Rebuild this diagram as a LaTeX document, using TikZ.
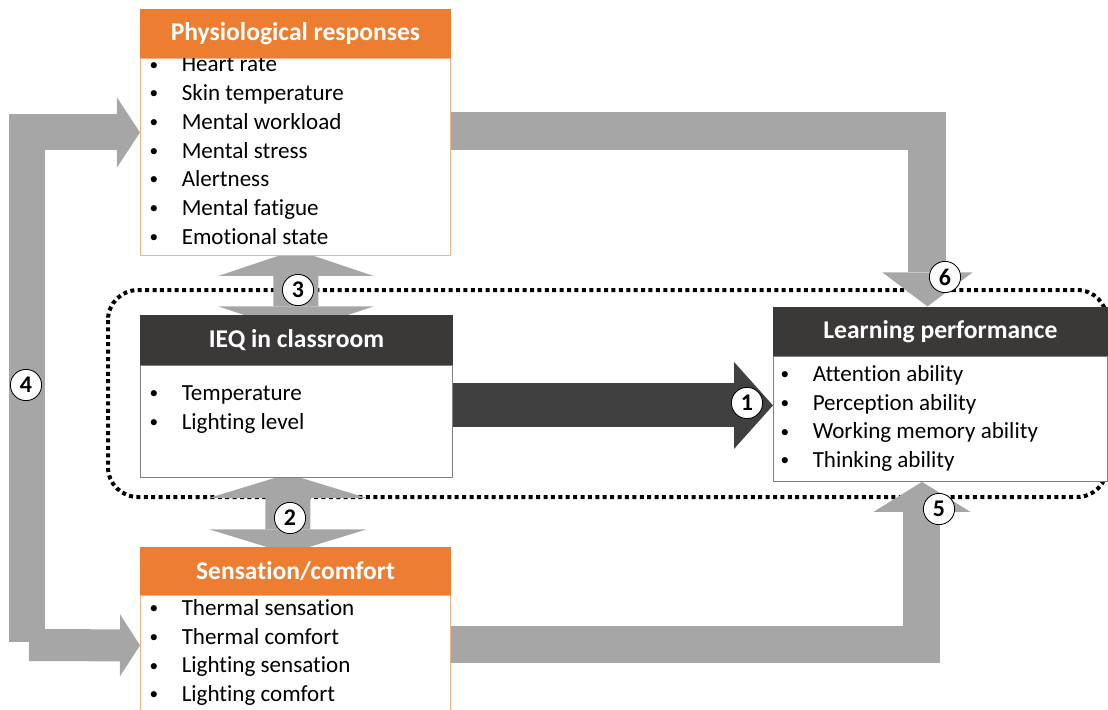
\documentclass[tikz,border=0pt]{standalone}
\usepackage{fontspec}
\setmainfont[Ligatures=NoCommon]{Carlito}
\usetikzlibrary{arrows.meta,positioning,backgrounds}

\definecolor{orangefill}{HTML}{ED7D31}
\definecolor{orangeline}{HTML}{F4B183}
\definecolor{darkfill}{HTML}{3B3838}
\definecolor{arrowgray}{HTML}{A6A6A6}
\definecolor{arrowdark}{HTML}{404040}

\tikzset{
    orange-box/.style = {draw=orangeline, fill=white, line width=0.6pt, rectangle, anchor=north west, inner sep=0pt},
    gray-box/.style = {draw=gray, fill=white, line width=0.6pt, rectangle, anchor=north west, inner sep=0pt},
    orange-title/.style = {fill=orangefill, text=white, inner sep=0pt, font=\bfseries\fontsize{18.2}{22}\selectfont},
    dark-title/.style = {fill=darkfill, text=white, inner sep=0pt, font=\bfseries\fontsize{18.2}{22}\selectfont},
    list-text/.style = {inner sep=0pt, anchor=base west, font=\fontsize{16.4}{20.4}\selectfont},
    gray-arrow/.style = {draw=arrowgray},
    num-badge/.style = {circle, draw=black, fill=white, line width=0.6pt, minimum size=0.78cm, inner sep=0pt, font=\bfseries\fontsize{17}{20}\selectfont},
    dotted-frame/.style = {draw=black, line width=0.1cm, dash pattern=on 0.1cm off 0.085cm, rounded corners=0.75cm},
}

\newcommand{\tip}[2]{Triangle[length=#1, width=#2, line width=0pt]}
\newcommand{\smallbullet}{\hspace{1pt}\raisebox{0.08em}{\scalebox{0.75}{\textbullet}}}

\begin{document}
\begin{tikzpicture}[x=0.025cm, y=-0.025cm]
\useasboundingbox (0,0) rectangle (1108,709);

% boxes
\node[orange-box, minimum width=7.75cm, minimum height=4.925cm] (physbody) at (140,58) {};
\node[gray-box, minimum width=7.8cm, minimum height=2.8cm] (ieqbody) at (140,365) {};
\node[orange-box, minimum width=7.75cm, minimum height=3.25cm] (sensbody) at (140,595) {};
\node[gray-box, minimum width=8.35cm, minimum height=3.125cm] (learnbody) at (773,356) {};

% bullet lists
\node[list-text] (physlist) at ([shift={(8,14)}]physbody.north west) {\begin{tabular}[t]{@{}p{23.8pt}@{}l@{}}
    \smallbullet & Heart rate\\
    \smallbullet & Skin temperature\\
    \smallbullet & Mental workload\\
    \smallbullet & Mental stress\\
    \smallbullet & Alertness\\
    \smallbullet & Mental fatigue\\
    \smallbullet & Emotional state
\end{tabular}};
\node[list-text] (ieqlist) at ([shift={(8,35.5)}]ieqbody.north west) {\begin{tabular}[t]{@{}p{23.8pt}@{}l@{}}
    \smallbullet & Temperature\\
    \smallbullet & Lighting level
\end{tabular}};
\node[list-text] (senslist) at ([shift={(8,20.5)}]sensbody.north west) {\begin{tabular}[t]{@{}p{23.8pt}@{}l@{}}
    \smallbullet & Thermal sensation\\
    \smallbullet & Thermal comfort\\
    \smallbullet & Lighting sensation\\
    \smallbullet & Lighting comfort
\end{tabular}};
\node[list-text] (learnlist) at ([shift={(6,25.5)}]learnbody.north west) {\begin{tabular}[t]{@{}p{23.8pt}@{}l@{}}
    \smallbullet & Attention ability\\
    \smallbullet & Perception ability\\
    \smallbullet & Working memory ability\\
    \smallbullet & Thinking ability
\end{tabular}};

% titles
\node[orange-title, minimum width=7.75cm, minimum height=1.225cm, above=0pt of physbody] (phystitle) {Physiological responses};
\node[dark-title, minimum width=7.8cm, minimum height=1.25cm, above=0pt of ieqbody] (ieqtitle) {IEQ in classroom};
\node[orange-title, minimum width=7.75cm, minimum height=1.2cm, above=0pt of sensbody] (senstitle) {Sensation/comfort};
\node[dark-title, minimum width=8.35cm, minimum height=1.225cm, above=0pt of learnbody] (learntitle) {Learning performance};

\coordinate (loop-foot) at (27,642);
\coordinate (loop-toe) at (29,645);
\coordinate (ieq-out) at ([shift={(0,-16)}]ieqbody.east);

\begin{scope}[on background layer]
    \draw[dotted-frame] (108,290) rectangle (1107,497);
    % block arrows
    \draw[gray-arrow, line width=1.125cm, {\tip{0.65cm}{3.875cm}}-{\tip{0.65cm}{3.875cm}}]
        ([shift={(-0.5,18)}]ieqtitle.north) -- ([shift={(0.5,-6)}]physbody.south);
    \draw[gray-arrow, line width=1.125cm, {\tip{0.6cm}{3.925cm}}-{\tip{0.6cm}{3.925cm}}]
        ([shift={(-8.5,-4)}]ieqbody.south) -- ([shift={(-7.5,7)}]senstitle.north);
    \draw[gray-arrow, line width=0.9cm, -{\tip{0.575cm}{1.75cm}}]
        (loop-foot) |- ([shift={(0,-24.5)}]physbody.west);
    \draw[gray-arrow, line width=0.8cm, -{\tip{0.5cm}{1.55cm}}]
        (loop-toe) -- ([shift={(0,-15)}]sensbody.west);
    \draw[gray-arrow, line width=0.95cm, -{\tip{0.85cm}{2.25cm}}]
        ([shift={(0,-25.5)}]physbody.east) -| ([shift={(-13,0)}]learntitle.north);
    \draw[gray-arrow, line width=0.925cm, -{\tip{0.75cm}{2.425cm}}]
        ([shift={(0,-16)}]sensbody.east) -| ([shift={(-18.5,0)}]learnbody.south);
    \draw[draw=arrowdark, line width=1.1cm, -{\tip{0.975cm}{2.175cm}}]
        (ieq-out) -- (ieq-out -| learnbody.west);
\end{scope}

% numbers
\node[num-badge] (b1) at (747,403) {1};
\node[num-badge] (b2) at (290,518) {2};
\node[num-badge] (b3) at (298,290) {3};
\node[num-badge] (b4) at (26,385) {4};
\node[num-badge] (b5) at (939,509) {5};
\node[num-badge] (b6) at (945,277) {6};
\end{tikzpicture}
\end{document}
